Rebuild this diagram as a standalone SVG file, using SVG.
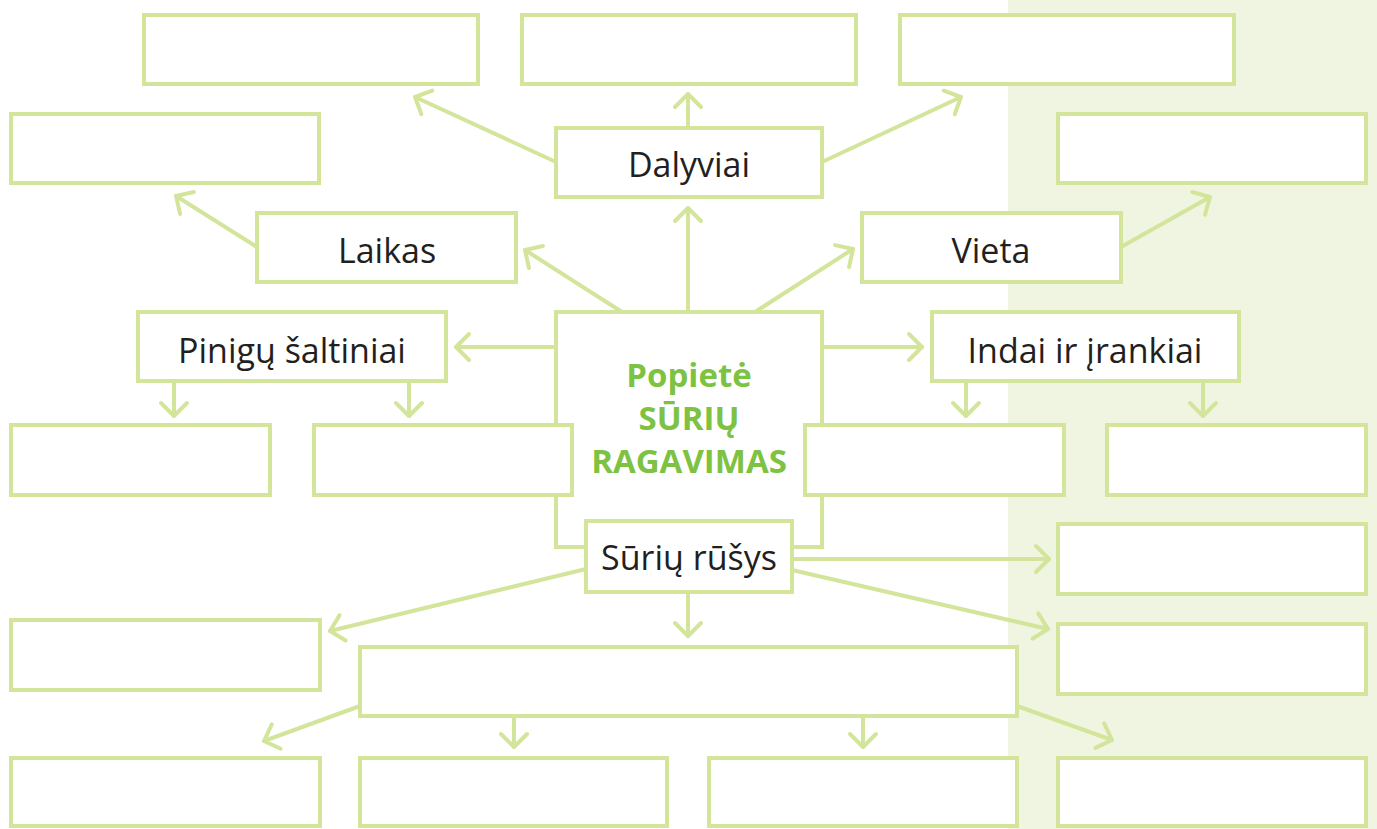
<svg xmlns="http://www.w3.org/2000/svg" width="1377" height="829" viewBox="0 0 1377 829">
<style>
.box{fill:#ffffff;stroke:#d3e59b;stroke-width:4}
.con{fill:none;stroke:#d3e59b;stroke-width:4;stroke-linecap:round;marker-end:url(#arr)}
.lbl{font-family:"Open Sans","Noto Sans",sans-serif;font-size:34px;fill:#231f20;text-anchor:middle}
.title{font-family:"Open Sans","Noto Sans",sans-serif;font-size:33px;font-weight:bold;fill:#7dc242;text-anchor:middle}
</style>
<defs>
<marker id="arr" markerUnits="userSpaceOnUse" viewBox="-16 -16 32 32" markerWidth="32" markerHeight="32" refX="0" refY="0" orient="auto" overflow="visible">
<path d="M-13,-13 L0,0 L-13,13" fill="none" stroke="#d3e59b" stroke-width="4" stroke-linecap="round" stroke-linejoin="round"/>
</marker>
</defs>
<rect x="0" y="0" width="1377" height="829" fill="#ffffff"/>
<rect x="1008" y="0" width="369" height="829" fill="#f0f5e1"/>
<g id="connectors">
<line class="con" x1="556" y1="162" x2="415" y2="97"/>
<line class="con" x1="688" y1="128" x2="688" y2="94"/>
<line class="con" x1="822" y1="162" x2="961" y2="97"/>
<line class="con" x1="688" y1="312" x2="688" y2="208"/>
<line class="con" x1="622" y1="312" x2="525" y2="250"/>
<line class="con" x1="755" y1="312" x2="853" y2="249"/>
<line class="con" x1="257" y1="247" x2="176" y2="196"/>
<line class="con" x1="1121" y1="247" x2="1210" y2="197"/>
<line class="con" x1="556" y1="347" x2="456" y2="347"/>
<line class="con" x1="822" y1="347" x2="922" y2="347"/>
<line class="con" x1="174" y1="381" x2="174" y2="416"/>
<line class="con" x1="409" y1="381" x2="409" y2="416"/>
<line class="con" x1="966" y1="381" x2="966" y2="416"/>
<line class="con" x1="1203" y1="381" x2="1203" y2="416"/>
<line class="con" x1="792" y1="559" x2="1049" y2="559"/>
<line class="con" x1="792" y1="570" x2="1048" y2="629"/>
<line class="con" x1="586" y1="569" x2="330" y2="631"/>
<line class="con" x1="688" y1="592" x2="688" y2="636"/>
<line class="con" x1="360" y1="706" x2="264" y2="741"/>
<line class="con" x1="514" y1="716" x2="514" y2="747"/>
<line class="con" x1="863" y1="716" x2="863" y2="747"/>
<line class="con" x1="1017" y1="706" x2="1112" y2="740"/>
</g>
<g id="center"><rect class="box" x="556" y="312" width="266" height="235"/>
<text class="title" x="689" y="387">Popietė</text>
<text class="title" x="689" y="430">SŪRIŲ</text>
<text class="title" x="689" y="473">RAGAVIMAS</text></g>
<g id="top1"><rect class="box" x="144" y="15" width="334" height="69"/></g>
<g id="top2"><rect class="box" x="522" y="15" width="334" height="69"/></g>
<g id="top3"><rect class="box" x="900" y="15" width="334" height="69"/></g>
<g id="left2"><rect class="box" x="11" y="114" width="308" height="69"/></g>
<g id="right2"><rect class="box" x="1058" y="114" width="308" height="69"/></g>
<g id="dalyviai"><rect class="box" x="556" y="128" width="266" height="69"/><text class="lbl" x="689" y="177">Dalyviai</text></g>
<g id="laikas"><rect class="box" x="257" y="213" width="259" height="69"/><text class="lbl" x="387" y="263">Laikas</text></g>
<g id="vieta"><rect class="box" x="862" y="213" width="259" height="69"/><text class="lbl" x="991" y="263">Vieta</text></g>
<g id="pinigu"><rect class="box" x="138" y="312" width="308" height="69"/><text class="lbl" x="292" y="363">Pinigų šaltiniai</text></g>
<g id="indai"><rect class="box" x="932" y="312" width="307" height="69"/><text class="lbl" x="1085" y="363">Indai ir įrankiai</text></g>
<g id="b1"><rect class="box" x="11" y="425" width="259" height="70"/></g>
<g id="b2"><rect class="box" x="314" y="425" width="258" height="70"/></g>
<g id="b3"><rect class="box" x="805" y="425" width="259" height="70"/></g>
<g id="b4"><rect class="box" x="1107" y="425" width="259" height="70"/></g>
<g id="suriu"><rect class="box" x="586" y="521" width="206" height="71"/><text class="lbl" x="689" y="570">Sūrių rūšys</text></g>
<g id="r5"><rect class="box" x="1058" y="524" width="308" height="70"/></g>
<g id="r6"><rect class="box" x="1058" y="624" width="308" height="70"/></g>
<g id="l5"><rect class="box" x="11" y="620" width="309" height="70"/></g>
<g id="wide"><rect class="box" x="360" y="647" width="657" height="69"/></g>
<g id="bb1"><rect class="box" x="11" y="758" width="309" height="68"/></g>
<g id="bb2"><rect class="box" x="360" y="758" width="307" height="68"/></g>
<g id="bb3"><rect class="box" x="709" y="758" width="308" height="68"/></g>
<g id="bb4"><rect class="box" x="1058" y="758" width="308" height="68"/></g>
</svg>
